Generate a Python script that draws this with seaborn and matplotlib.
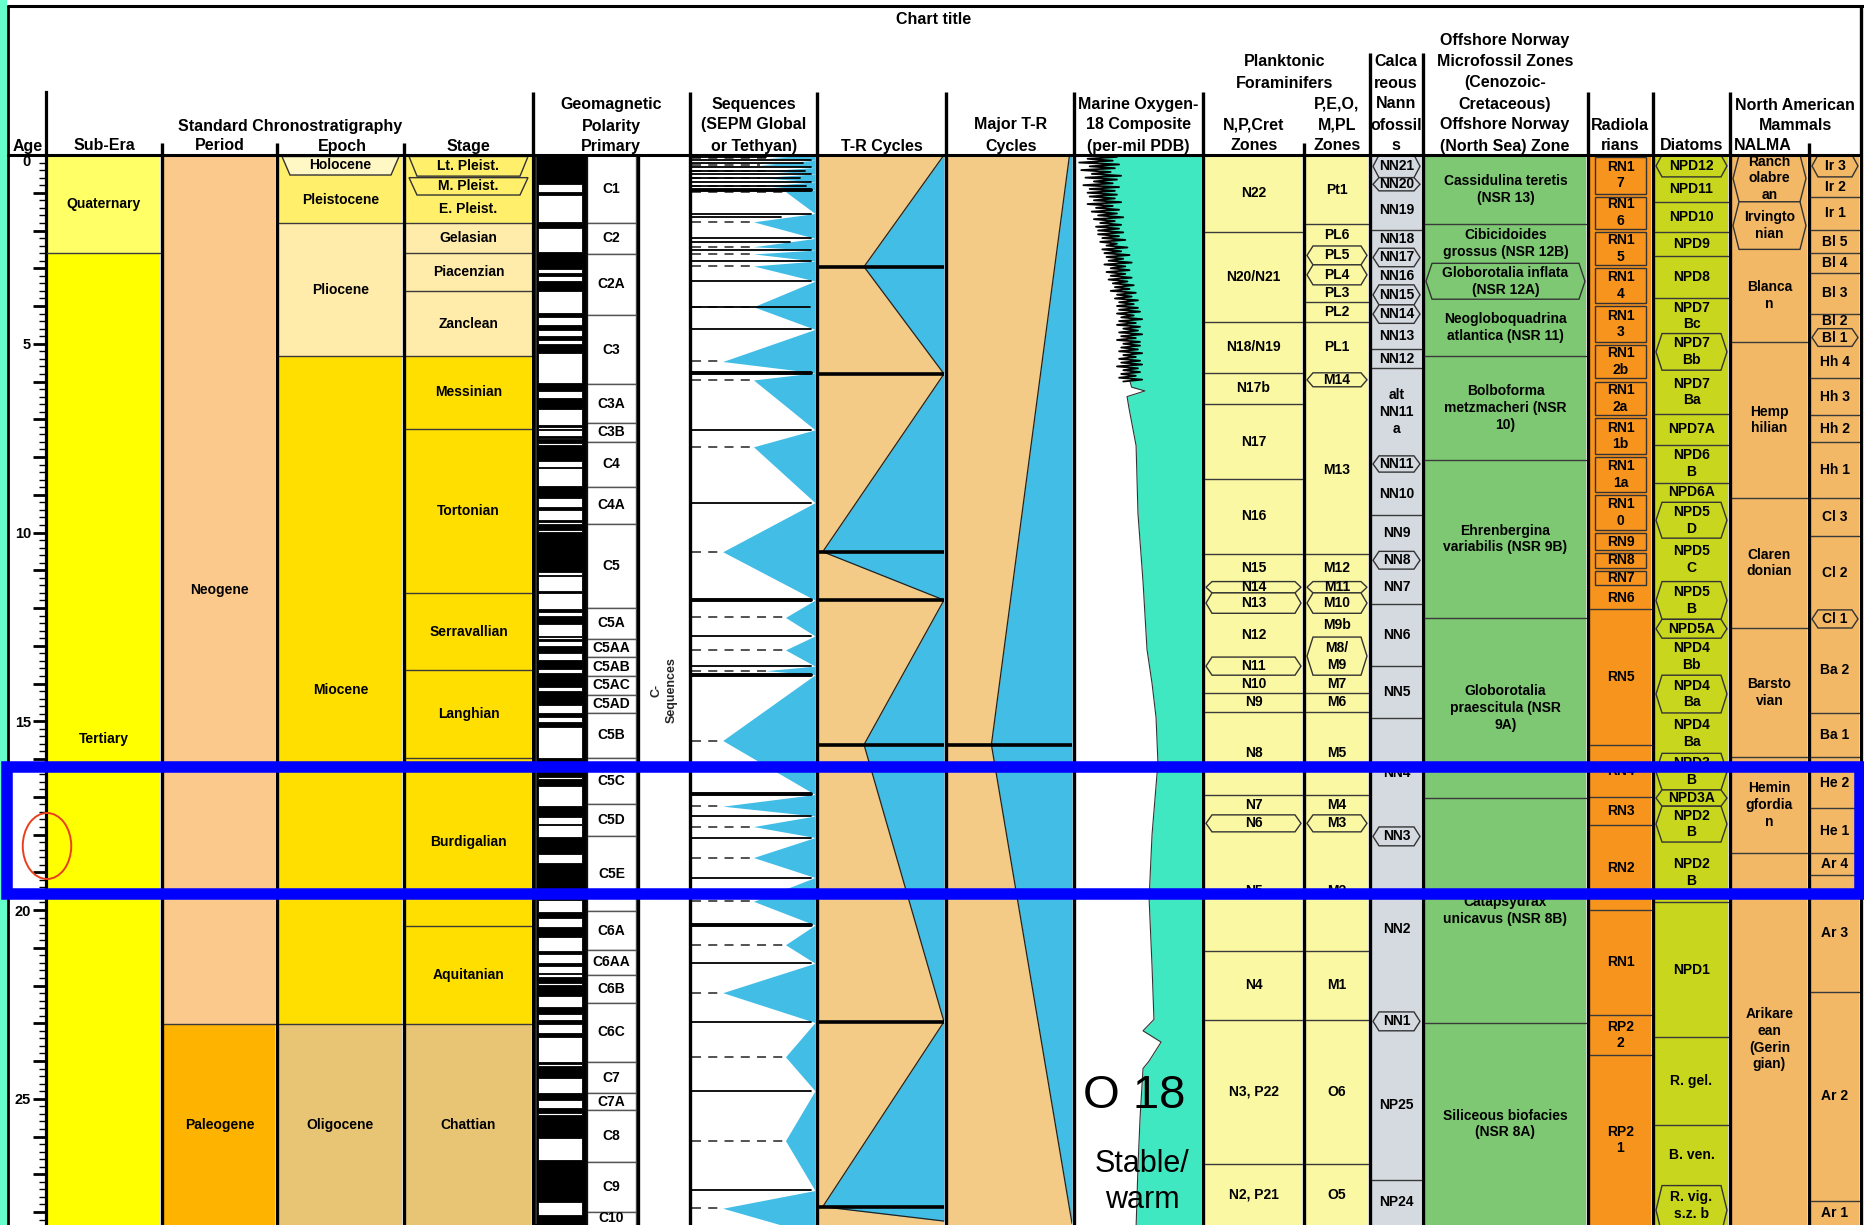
import matplotlib
matplotlib.use("Agg")
import matplotlib.pyplot as plt
from matplotlib.patches import Polygon, Rectangle, Ellipse
import pandas as pd
import seaborn as sns

# ======================= DATA =======================
age_major_ticks = list(range(0, 29))
age_tick_labels = ["0", "", "", "", "", "5", "", "", "", "", "10", "", "", "", "", "15",
                   "", "", "", "", "20", "", "", "", "", "25", "", "", ""]

subera_names = ["Quaternary", "Tertiary"]
subera_bounds = [0.0, 2.588, 28.6]

period_names = ["Neogene", "Paleogene"]
period_bounds = [0.0, 23.03, 28.6]

epoch_names = ["Holocene", "Pleistocene", "Pliocene", "Miocene", "Oligocene"]
epoch_bounds = [0.0, 0.53, 1.806, 5.332, 23.03, 28.6]
epoch_kinds = ["t", "", "", "", ""]
epoch_label_at = [None, 1.2, None, None, None]

stage_names = ["Lt. Pleist.", "M. Pleist.", "E. Pleist.", "Gelasian", "Piacenzian", "Zanclean",
               "Messinian", "Tortonian", "Serravallian", "Langhian", "Burdigalian",
               "Aquitanian", "Chattian"]
stage_bounds = [0.0, 0.56, 1.06, 1.806, 2.588, 3.6, 5.332, 7.246, 11.608, 13.65, 15.97,
                20.43, 23.03, 28.6]
stage_kinds = ["t", "t", "", "", "", "", "", "", "", "", "", "", ""]

chron_names = ["C1", "C2", "C2A", "C3", "C3A", "C3B", "C4", "C4A", "C5", "C5A", "C5AA", "C5AB",
               "C5AC", "C5AD", "C5B", "C5C", "C5D", "C5E", "C6A", "C6AA", "C6B", "C6C", "C7",
               "C7A", "C8", "C9", "C10"]
chron_bounds = [0.0, 1.79, 2.62, 4.24, 6.07, 7.1, 7.6, 8.79, 9.77, 12.0, 12.82, 13.3, 13.8,
                14.3, 14.78, 15.97, 17.2, 18.04, 20.03, 21.06, 21.72, 22.47, 24.02, 24.86,
                25.3, 26.67, 28.0, 28.6]

normal_tops = [0.0, 0.988, 1.778, 2.581, 3.116, 3.33, 4.187, 4.493, 4.799, 4.997, 6.033, 6.436,
               7.14, 7.251, 7.454, 7.528, 7.695, 8.254, 8.769, 9.312, 9.656, 9.779, 9.987,
               11.118, 11.554, 12.014, 12.207, 12.73, 12.82, 13.015, 13.369, 13.734, 14.194,
               14.784, 15.032, 15.974, 16.303, 16.543, 17.235, 17.717, 18.056, 18.748, 20.04,
               20.439, 21.083, 21.403, 21.659, 21.767, 21.992, 22.564, 22.902, 23.249, 24.02,
               24.12, 24.86, 25.25, 25.43, 26.62, 28.08]
normal_bases = [0.781, 1.072, 1.945, 3.032, 3.207, 3.596, 4.3, 4.631, 4.896, 5.235, 6.252, 6.733,
                7.212, 7.285, 7.489, 7.642, 8.108, 8.3, 9.098, 9.409, 9.717, 9.934, 11.04,
                11.154, 11.614, 12.116, 12.415, 12.765, 12.878, 13.183, 13.605, 14.095, 14.581,
                14.877, 15.16, 16.268, 16.472, 16.721, 17.533, 17.74, 18.524, 19.722, 20.213,
                20.709, 21.159, 21.483, 21.688, 21.936, 22.268, 22.754, 23.03, 23.375, 24.08,
                24.46, 25.03, 25.39, 26.05, 27.73, 28.6]

seq_tops = [0.0, 0.14, 0.33, 0.5, 0.71, 0.93, 1.55, 2.21, 2.52, 2.81, 3.34, 4.62, 5.77, 7.28,
            9.21, 11.79, 12.74, 13.54, 13.77, 16.94, 17.51, 18.08, 19.14, 20.4, 21.41, 22.98,
            24.79, 27.43]
seq_mfs = [0.07, 0.26, 0.42, 0.6, 0.82, 0.97, 1.77, 2.43, 2.62, 2.94, 4.02, 5.47, 5.96, 7.73,
           10.51, 12.25, 13.11, 13.66, 15.51, 17.25, 17.79, 18.61, 19.77, 20.92, 22.19, 23.89,
           26.11, 27.9]
seq_apex = [0.62, 0.55, 0.6, 0.55, 0.6, 0.76, 0.5, 0.5, 0.5, 0.5, 0.5, 0.25, 0.5, 0.5, 0.25,
            0.76, 0.76, 0.6, 0.25, 0.25, 0.5, 0.5, 0.5, 0.76, 0.25, 0.76, 0.76, 0.25]
seq_thick = [0.93, 5.77, 11.79, 13.77, 16.94, 20.4]
seq_extra_ages = [0.05, 0.22, 0.42, 0.6, 0.82, 1.63, 2.3, 4.02]
seq_extra_len = [0.6, 0.9, 0.92, 0.88, 0.93, 0.72, 0.8, 0.96]

tr_tops = [0.0, 2.96, 5.8, 10.51, 11.79, 15.62, 22.96, 27.86]
tr_bases = [2.96, 5.8, 10.51, 11.79, 15.62, 22.96, 27.86, 28.24]
tr_ftop = [1.0, 0.36, 1.0, 0.03, 1.0, 0.36, 1.0, 0.03]
tr_fbase = [0.36, 1.0, 0.03, 1.0, 0.36, 1.0, 0.03, 1.0]
tr_lines = [2.96, 5.8, 10.51, 11.79, 15.62, 22.96, 27.86]

mtr_tops = [0.0, 15.62]
mtr_bases = [15.62, 28.3]
mtr_ftop = [0.98, 0.35]
mtr_fbase = [0.35, 1.0]
mtr_lines = [15.62]

# raw (noisy) oxygen-18 record, 0-6 Ma
o18_raw_age = [0.0, 0.05, 0.1, 0.15, 0.2, 0.25, 0.3, 0.35, 0.4, 0.45, 0.5, 0.55, 0.6, 0.65, 0.7,
               0.75, 0.8, 0.85, 0.9, 0.95, 1.0, 1.05, 1.1, 1.15, 1.2, 1.25, 1.3, 1.35, 1.4, 1.45,
               1.5, 1.55, 1.6, 1.65, 1.7, 1.75, 1.8, 1.85, 1.9, 1.95, 2.0, 2.05, 2.1, 2.15, 2.2,
               2.25, 2.3, 2.35, 2.4, 2.45, 2.5, 2.55, 2.6, 2.65, 2.7, 2.75, 2.8, 2.85, 2.9, 2.95,
               3.0, 3.05, 3.1, 3.15, 3.2, 3.25, 3.3, 3.35, 3.4, 3.45, 3.5, 3.55, 3.6, 3.65, 3.7,
               3.75, 3.8, 3.85, 3.9, 3.95, 4.0, 4.05, 4.1, 4.15, 4.2, 4.25, 4.3, 4.35, 4.4, 4.45,
               4.5, 4.55, 4.6, 4.65, 4.7, 4.75, 4.8, 4.85, 4.9, 4.95, 5.0, 5.05, 5.1, 5.15, 5.2,
               5.25, 5.3, 5.35, 5.4, 5.45, 5.5, 5.55, 5.6, 5.65, 5.7, 5.75, 5.8, 5.85, 5.9, 5.95,
               6.0]
o18_raw_val = [4.6, 3.0, 4.4, 3.2, 4.8, 2.9, 4.3, 3.1, 4.7, 3.3, 4.2, 2.8, 4.5, 3.0, 4.1,
               3.2, 4.6, 2.9, 4.3, 3.1, 4.4,
               3.0, 4.3, 3.1, 4.1, 2.8, 4.4, 3.2, 4.0, 2.9, 4.2, 3.0, 3.9, 2.7, 4.1, 3.1, 3.8,
               2.8, 4.0, 2.9, 3.9,
               2.7, 3.9, 2.9, 3.7, 2.6, 3.8, 3.0, 3.5, 2.5, 3.7, 2.8, 3.6, 2.4, 3.5, 2.7, 3.4,
               2.3, 3.6, 2.6, 3.3,
               2.4, 3.5, 2.6, 3.3, 2.3, 3.4, 2.5, 3.2, 2.2, 3.1, 2.4, 3.3, 2.1, 3.0, 2.3, 3.1,
               2.0, 2.9, 2.2, 3.0,
               2.0, 2.9, 1.9, 3.0, 2.2, 2.8, 1.8, 2.9, 2.1, 3.0, 1.9, 2.7, 2.0, 2.9, 1.8, 2.8,
               2.1, 3.0, 1.9, 2.7,
               1.9, 2.8, 2.0, 2.9, 1.8, 2.7, 2.1, 2.9, 1.9, 2.8, 1.8, 3.0, 2.0, 2.7, 1.9, 2.8,
               2.1, 2.9, 1.8, 2.7]
# composite (smoothed) boundary of the shaded area
o18_env_age = [0.0, 1.0, 2.0, 3.0, 4.0, 5.0, 6.0, 6.15, 6.25, 6.4, 6.7, 7.7, 9.5, 11.3, 13.1,
               14.0, 14.9, 16.1, 18.0, 19.7, 21.5, 22.9, 23.2, 23.5, 24.0, 24.2, 25.5, 26.8,
               28.4]
o18_env_val = [3.81, 3.66, 3.33, 2.95, 2.47, 2.38, 2.38, 2.3, 1.67, 2.52, 2.43, 2.09, 2.0,
               1.76, 1.57, 1.33, 1.14, 1.05, 1.33, 1.47, 1.33, 1.24, 1.76, 0.9, 1.47, 1.76,
               1.9, 2.0, 2.09]

nzone_names = ["N22", "N20/N21", "N18/N19", "N17b", "N17", "N16", "N15", "N14", "N13", "N12",
               "N11", "N10", "N9", "N8", "N7", "N6", "N5", "N4", "N3, P22", "N2, P21"]
nzone_bounds = [0.0, 2.03, 4.42, 5.77, 6.6, 8.58, 10.57, 11.3, 11.6, 12.14, 13.3, 13.78, 14.25,
                14.75, 16.95, 17.48, 17.93, 21.08, 22.91, 26.73, 28.6]
nzone_kinds = ["", "", "", "", "", "", "", "h", "h", "", "h", "", "", "", "", "h", "", "", "", ""]

mzone_names = ["Pt1", "PL6", "PL5", "PL4", "PL3", "PL2", "PL1", "M14", "M13", "M12", "M11",
               "M10", "M9b", "M8/\nM9", "M7", "M6", "M5", "M4", "M3", "M2", "M1", "O6", "O5"]
mzone_bounds = [0.0, 1.83, 2.41, 2.91, 3.44, 3.89, 4.42, 5.77, 6.14, 10.57, 11.3, 11.6, 12.14,
                12.77, 13.78, 14.25, 14.75, 16.95, 17.48, 17.93, 21.08, 22.91, 26.73, 28.6]
mzone_kinds = ["", "", "h", "h", "", "", "", "h", "", "", "h", "h", "", "h", "", "", "", "",
               "h", "", "", "", ""]

nanno_names = ["NN21", "NN20", "NN19", "NN18", "NN17", "NN16", "NN15", "NN14", "NN13", "NN12",
               "alt\nNN11\na", "NN11", "NN10", "NN9", "NN8", "NN7", "NN6", "NN5", "NN4", "NN3",
               "NN2", "NN1", "NP25", "NP24"]
nanno_bounds = [0.0, 0.6, 0.95, 1.99, 2.47, 2.96, 3.44, 3.97, 4.46, 5.15, 5.65, 7.97, 8.4, 9.54,
                10.5, 10.97, 11.9, 13.54, 14.92, 17.8, 18.3, 22.7, 23.2, 27.15, 28.6]
nanno_kinds = ["h", "h", "", "", "h", "", "h", "h", "", "", "", "h", "", "", "h", "", "", "",
               "", "h", "", "h", "", ""]

norway_names = ["Cassidulina teretis\n(NSR 13)", "Cibicidoides\ngrossus (NSR 12B)",
                "Globorotalia inflata\n(NSR 12A)", "Neogloboquadrina\natlantica (NSR 11)",
                "Bolboforma\nmetzmacheri (NSR\n10)", "Ehrenbergina\nvariabilis (NSR 9B)",
                "Globorotalia\npraescitula (NSR\n9A)", "Catapsydrax\nunicavus (NSR 8B)",
                "Siliceous biofacies\n(NSR 8A)"]
norway_bounds = [0.0, 1.83, 2.87, 3.82, 5.33, 8.08, 12.27, 17.04, 22.99, 28.6]
norway_kinds = ["", "", "h", "", "", "", "", "", ""]

radio_names = ["RN1\n7", "RN1\n6", "RN1\n5", "RN1\n4", "RN1\n3", "RN1\n2b", "RN1\n2a",
               "RN1\n1b", "RN1\n1a", "RN1\n0", "RN9", "RN8", "RN7", "RN6", "RN5", "RN4", "RN3",
               "RN2", "RN1", "RP2\n2", "RP2\n1"]
radio_bounds = [0.0, 1.06, 1.99, 2.96, 3.97, 4.99, 5.96, 6.94, 7.95, 8.96, 9.98, 10.5, 10.97,
                11.44, 12.03, 15.63, 17.0, 17.75, 20.0, 22.78, 23.84, 28.6]
radio_kinds = ["b", "b", "b", "b", "b", "b", "b", "b", "b", "b", "b", "b", "b", "", "", "", "",
               "", "", "", ""]

diatom_names = ["NPD12", "NPD11", "NPD10", "NPD9", "NPD8", "NPD7\nBc", "NPD7\nBb", "NPD7\nBa",
                "NPD7A", "NPD6\nB", "NPD6A", "NPD5\nD", "NPD5\nC", "NPD5\nB", "NPD5A",
                "NPD4\nBb", "NPD4\nBa", "NPD4\nBa", "NPD3\nB", "NPD3A", "NPD2\nB", "NPD2\nB",
                "NPD1", "R. gel.", "B. ven.", "R. vig.\ns.z. b"]
diatom_bounds = [0.0, 0.58, 1.24, 2.03, 2.68, 3.8, 4.73, 5.7, 6.85, 7.68, 8.68, 9.2, 10.15, 11.3,
                 12.3, 12.8, 13.78, 14.78, 15.85, 16.82, 17.25, 18.2, 19.8, 23.36, 25.7, 27.3,
                 28.6]
diatom_kinds = ["h", "", "", "", "", "", "h", "", "", "", "", "h", "", "h", "h", "", "h", "",
                "h", "h", "h", "", "", "", "", "h"]

nalma_names = ["Ranch\nolabre\nan", "Irvingto\nnian", "Blanca\nn", "Hemp\nhilian",
               "Claren\ndonian", "Barsto\nvian", "Hemin\ngfordia\nn", "Arikare\nean\n(Gerin\ngian)"]
nalma_bounds = [0.0, 1.24, 2.5, 4.95, 9.09, 12.53, 15.95, 18.5, 28.6]
nalma_kinds = ["h", "h", "", "", "", "", "", ""]

nalmasub_names = ["Ir 3", "Ir 2", "Ir 1", "Bl 5", "Bl 4", "Bl 3", "Bl 2", "Bl 1", "Hh 4",
                  "Hh 3", "Hh 2", "Hh 1", "Cl 3", "Cl 2", "Cl 1", "Ba 2", "Ba 1", "He 2",
                  "He 1", "Ar 4", "Ar 3", "Ar 2", "Ar 1"]
nalmasub_bounds = [0.0, 0.58, 1.1, 1.99, 2.6, 3.13, 4.2, 4.6, 5.07, 5.9, 6.9, 7.6, 9.09, 10.1,
                   12.05, 12.53, 14.78, 15.95, 17.3, 18.5, 19.07, 22.17, 27.7, 28.6]
nalmasub_kinds = ["h", "", "", "", "", "", "", "h", "", "", "", "", "", "", "h", "", "", "",
                  "", "", "", "", ""]

# ======================= LAYOUT / STYLE =======================
W, H, DPI = 1865, 1225, 100
Y0, PPM = 155.0, 37.75
AGE_BOT = (H - Y0) / PPM
AGE_TOP = -Y0 / PPM
AX_X = 45.6


def A(ypx):
    return (ypx - Y0) / PPM


COLS = {
    "subera": (47, 160), "period": (164, 275), "epoch": (279, 402), "stage": (406, 531),
    "pol": (535, 587), "chron": (587, 636), "seq": (692, 815), "tr": (819, 944),
    "mtr": (948, 1072), "o18": (1076, 1201), "nzone": (1205, 1302), "mzone": (1306, 1368),
    "nanno": (1372, 1421), "norway": (1425, 1586), "radio": (1590, 1651),
    "diatom": (1655, 1728), "nalma": (1732, 1807), "nalmasub": (1811, 1859),
}

C_QUAT, C_TERT = "#FFFF66", "#FFFF00"
C_NEOG, C_PALEOG = "#FCC98D", "#FDB300"
C_HOLO, C_PLEI, C_PLIO, C_MIO, C_OLIG = "#FFF7C4", "#FFEF6A", "#FFEBAA", "#FFDF00", "#E8C574"
C_BLUE, C_TAN, C_GREEN = "#41BDE6", "#F3CB86", "#40E8C2"

sns.set_theme(style="ticks")
plt.rcParams["font.family"] = ["Liberation Sans", "DejaVu Sans"]
plt.rcParams["axes.linewidth"] = 1.0

fig = plt.figure(figsize=(W / DPI, H / DPI), dpi=DPI)
fig.patch.set_facecolor("white")

ax = fig.add_axes([AX_X / W, 0, 1 - AX_X / W, 1])
ax.set_xlim(AX_X, W)
ax.set_ylim(AGE_BOT, AGE_TOP)
ax.set_facecolor("none")
for s in ["top", "right", "bottom"]:
    ax.spines[s].set_visible(False)
ax.spines["left"].set_bounds(A(92), AGE_BOT)
ax.spines["left"].set_linewidth(2.3)
ax.spines["left"].set_color("black")
ax.set_xticks([])
ax.set_yticks(age_major_ticks, labels=age_tick_labels)
ax.set_yticks([i / 5 for i in range(0, 142) if i % 5], minor=True)
ax.tick_params(axis="y", which="major", left=True, direction="out", length=9.5, width=2.0,
               pad=1.0, labelsize=10.5, colors="black")
ax.tick_params(axis="y", which="minor", left=True, direction="out", length=4.7, width=1.0,
               colors="black")
for lbl in ax.get_yticklabels():
    lbl.set_fontweight("bold")
ax.yaxis.get_major_ticks()[0].label1.set_verticalalignment("top")

LBL_KW = dict(ha="center", va="center", fontsize=10, fontweight="bold", linespacing=1.25,
              color="black", zorder=6)


def zone_column(col, names, bounds, kinds=None, colors="white", label_at=None, fs=10,
                poly_face=None):
    x0, x1 = COLS[col]
    xc = (x0 + x1) / 2
    n = len(names)
    kinds = kinds or [""] * n
    tops, bases = bounds[:-1], bounds[1:]
    cols = colors if isinstance(colors, list) else [colors] * n
    ax.bar([xc] * n, [b - t for t, b in zip(tops, bases)], bottom=tops, width=x1 - x0,
           color=cols, edgecolor="none", linewidth=0, zorder=1)
    for i in range(1, n):
        if kinds[i - 1] in ("h", "t", "b") or kinds[i] in ("h", "t", "b"):
            continue
        ax.plot([x0, x1], [bounds[i], bounds[i]], color="#3a3a3a", lw=1.0, zorder=3)
    for i in range(n):
        t, b, k = tops[i], bases[i], kinds[i]
        face = cols[i] if poly_face is None or poly_face[i] is None else poly_face[i]
        if k == "h":
            d = 7
            pts = [(x0 + 1, (t + b) / 2), (x0 + d, t), (x1 - d, t), (x1 - 1, (t + b) / 2),
                   (x1 - d, b), (x0 + d, b)]
            ax.add_patch(Polygon(pts, closed=True, facecolor=face, edgecolor="#333",
                                 lw=1.0, zorder=4))
        elif k == "t":
            pts = [(x0 + 3, t + 0.04), (x1 - 3, t + 0.04), (x1 - 11, b), (x0 + 11, b)]
            ax.add_patch(Polygon(pts, closed=True, facecolor=face, edgecolor="#333",
                                 lw=1.0, zorder=4))
        elif k == "b":
            ax.add_patch(Rectangle((x0 + 5, t + 0.04), (x1 - x0) - 10, (b - t) - 0.08,
                                   facecolor=face, edgecolor="#333", lw=1.0, zorder=4))
    for i in range(n):
        t, b = tops[i], min(bases[i], AGE_BOT)
        y = (t + b) / 2 if (label_at is None or label_at[i] is None) else label_at[i]
        kw = dict(LBL_KW)
        kw["fontsize"] = fs
        ax.text(xc, y, names[i], **kw)


zone_column("subera", subera_names, subera_bounds, colors=[C_QUAT, C_TERT])
zone_column("period", period_names, period_bounds, colors=[C_NEOG, C_PALEOG])
zone_column("epoch", epoch_names, epoch_bounds, epoch_kinds,
            colors=[C_PLEI, C_PLEI, C_PLIO, C_MIO, C_OLIG], label_at=epoch_label_at,
            poly_face=[C_HOLO, None, None, None, None])
zone_column("stage", stage_names, stage_bounds, stage_kinds,
            colors=[C_PLEI] * 3 + [C_PLIO] * 3 + [C_MIO] * 6 + [C_OLIG])

# polarity bar
px0, px1 = COLS["pol"]
ax.bar([(px0 + px1) / 2], [AGE_BOT + 1], bottom=[0], width=px1 - px0, color="black", zorder=1)
rev_tops = normal_bases[:-1]
rev_bases = normal_tops[1:]
ax.bar([(px0 + px1) / 2 - 1] * len(rev_tops), [b - t for t, b in zip(rev_tops, rev_bases)],
       bottom=rev_tops, width=(px1 - px0) - 8, color="white", edgecolor="black",
       linewidth=0.6, zorder=2)
# chron labels
cx0, cx1 = COLS["chron"]
ct, cb = chron_bounds[:-1], chron_bounds[1:]
ax.bar([(cx0 + cx1) / 2] * len(ct), [b - t for t, b in zip(ct, cb)], bottom=ct,
       width=cx1 - cx0, color="white", edgecolor="#555", linewidth=1.0, zorder=2)
for nm, t, b in zip(chron_names, ct, cb):
    ax.text((cx0 + cx1) / 2, (t + min(b, AGE_BOT)) / 2, nm, **LBL_KW)
ax.text(664, A(690), "C-\nSequences", rotation=90, ha="center", va="center", fontsize=9,
        fontweight="bold", linespacing=1.3, zorder=6)

zone_column("nzone", nzone_names, nzone_bounds, nzone_kinds, colors="#FAF8A2")
zone_column("mzone", mzone_names, mzone_bounds, mzone_kinds, colors="#FAF8A2")
zone_column("nanno", nanno_names, nanno_bounds, nanno_kinds, colors="#D4DAE0")
zone_column("norway", norway_names, norway_bounds, norway_kinds, colors="#7EC874")
zone_column("radio", radio_names, radio_bounds, radio_kinds, colors="#F7941E")
zone_column("diatom", diatom_names, diatom_bounds, diatom_kinds, colors="#C8D61E")
zone_column("nalma", nalma_names, nalma_bounds, nalma_kinds, colors="#F2B866")
zone_column("nalmasub", nalmasub_names, nalmasub_bounds, nalmasub_kinds, colors="#F2B866")


def inset(col):
    x0, x1 = COLS[col]
    a = fig.add_axes([x0 / W, 0, (x1 - x0) / W, (H - Y0) / H], zorder=1)
    a.set_facecolor("none")
    return a


# sequences
sx = inset("seq")
seq_bases = seq_tops[1:] + [28.6]
for t, m, b, p in zip(seq_tops, seq_mfs, seq_bases, seq_apex):
    sx.fill_betweenx([t, m, b], [1.0, p, 1.0], 1.0, color=C_BLUE, lw=0)
    sx.plot([0, p], [m, m], color="#444", lw=1.3, ls=(0, (5, 4)))
for t in seq_tops[1:]:
    sx.plot([0, 0.97], [t, t], color="black", lw=2.8 if t in seq_thick else 1.3)
for a_, l_ in zip(seq_extra_ages, seq_extra_len):
    sx.plot([0, l_], [a_, a_], color="black", lw=1.3)
sx.set_xlim(0, 1)
sx.set_ylim(AGE_BOT, 0)
sx.axis("off")


def tr_column(col, tops, bases, ftop, fbase, lines):
    a = inset(col)
    a.fill_betweenx([0, AGE_BOT + 1], 0, 1, color=C_TAN, lw=0)
    for t, b, f0, f1 in zip(tops, bases, ftop, fbase):
        a.fill_betweenx([t, b], [f0, f1], 1.0, color=C_BLUE, lw=0)
        a.plot([f0, f1], [t, b], color="#222", lw=0.9)
    for y in lines:
        a.plot([0, 1], [y, y], color="black", lw=2.6)
    a.set_xlim(0, 1)
    a.set_ylim(AGE_BOT, 0)
    a.axis("off")


tr_column("tr", tr_tops, tr_bases, tr_ftop, tr_fbase, tr_lines)
tr_column("mtr", mtr_tops, mtr_bases, mtr_ftop, mtr_fbase, mtr_lines)

# oxygen isotope
ox = inset("o18")
ox.fill_betweenx(o18_env_age, o18_env_val, -1.0, color=C_GREEN, lw=0)
env = pd.DataFrame({"d18O": o18_env_val[6:], "age": o18_env_age[6:]})
raw = pd.DataFrame({"d18O": o18_raw_val, "age": o18_raw_age})
sns.lineplot(data=env, x="d18O", y="age", orient="y", estimator=None, sort=False,
             color="#333333", linewidth=0.8, ax=ox)
sns.lineplot(data=raw, x="d18O", y="age", orient="y", estimator=None, sort=False,
             color="black", linewidth=1.3, ax=ox)
ox.set_xlim(4.95, -1.0)
ox.set_ylim(AGE_BOT, 0)
ox.axis("off")

# ======================= OVERLAY: frame, header, annotations =======================
ov = fig.add_axes([0, 0, 1, 1], zorder=5)
ov.set_xlim(0, W)
ov.set_ylim(AGE_BOT, AGE_TOP)
ov.set_facecolor("none")
ov.axis("off")

ov.add_patch(Rectangle((0, AGE_TOP), 7, AGE_BOT - AGE_TOP, color="#66FFCC", lw=0,
                       clip_on=False))
ov.plot([8, W], [A(6), A(6)], color="black", lw=2.2)
ov.plot([8, 8], [A(6), AGE_BOT], color="black", lw=2.0)
ov.plot([8, 1861], [0, 0], color="black", lw=2.2)

sep_x = [162, 277, 404, 533, 638, 690, 817, 946, 1074, 1203, 1304, 1370, 1423, 1588, 1653,
         1730, 1809, 1861]
sep_top = [143, 143, 143, 92, 155, 92, 92, 92, 92, 92, 143, 53, 53, 92, 92, 92, 143, 6]
for xs, yt in zip(sep_x, sep_top):
    ov.plot([xs, xs], [A(yt), AGE_BOT], color="black", lw=2.4, solid_capstyle="butt")
ov.add_patch(Rectangle((COLS["pol"][0], 0), COLS["pol"][1] - COLS["pol"][0], AGE_BOT,
                       fill=False, edgecolor="black", lw=1.2))

header = [
    ("Chart title", 934, 20, "center"),
    ("Age", 28, 146, "center"), ("Sub-Era", 104, 146, "center"),
    ("Standard Chronostratigraphy", 290, 126, "center"), ("Period", 220, 146, "center"),
    ("Epoch", 342, 146, "center"), ("Stage", 468, 146, "center"),
    ("Geomagnetic", 611, 105, "center"), ("Polarity", 611, 126, "center"),
    ("Primary", 611, 146, "center"),
    ("Sequences", 754, 104, "center"), ("(SEPM Global", 754, 125, "center"),
    ("or Tethyan)", 754, 146, "center"),
    ("T-R Cycles", 882, 146, "center"),
    ("Major T-R", 1011, 125, "center"), ("Cycles", 1011, 146, "center"),
    ("Marine Oxygen-", 1138, 104, "center"), ("18 Composite", 1138, 125, "center"),
    ("(per-mil PDB)", 1138, 146, "center"),
    ("Planktonic", 1285, 62, "center"), ("Foraminifers", 1285, 83, "center"),
    ("N,P,Cret", 1254, 125, "center"), ("Zones", 1254, 146, "center"),
    ("P,E,O,", 1337, 104, "center"), ("M,PL", 1337, 125, "center"),
    ("Zones", 1337, 146, "center"),
    ("Calca", 1396, 62, "center"), ("reous", 1396, 83, "center"),
    ("Nann", 1396, 104, "center"), ("ofossil", 1396, 125, "center"),
    ("s", 1396, 146, "center"),
    ("Offshore Norway", 1505, 41, "center"), ("Microfossil Zones", 1505, 62, "center"),
    ("(Cenozoic-", 1505, 83, "center"), ("Cretaceous)", 1505, 104, "center"),
    ("Offshore Norway", 1505, 125, "center"), ("(North Sea) Zone", 1505, 146, "center"),
    ("Radiola", 1620, 125, "center"), ("rians", 1620, 146, "center"),
    ("Diatoms", 1692, 146, "center"),
    ("North American", 1795, 105, "center"), ("Mammals", 1795, 125, "center"),
    ("NALMA", 1734, 146, "left"),
]
for txt, xh, yh, ha in header:
    ov.text(xh, A(yh), txt, ha=ha, va="center", fontsize=11.5, fontweight="bold",
            color="black")

ov.text(1134, A(1108), "O 18", ha="center", va="baseline", fontsize=34, color="black",
        zorder=8)
ov.text(1142, A(1172), "Stable/", ha="center", va="baseline", fontsize=22, color="black",
        zorder=8)
ov.text(1142, A(1208), "warm", ha="center", va="baseline", fontsize=22, color="black",
        zorder=8)

ov.add_patch(Ellipse((47, A(846)), 48.5, 66 / PPM, fill=False, edgecolor="#E8401C", lw=1.4,
                     zorder=9, clip_on=False))
ov.add_patch(Rectangle((7, A(766.5)), 1853, A(893.5) - A(766.5), fill=False,
                       edgecolor="#0000FF", lw=8.3, zorder=10, clip_on=False))

fig.savefig("out.png", dpi=DPI)
